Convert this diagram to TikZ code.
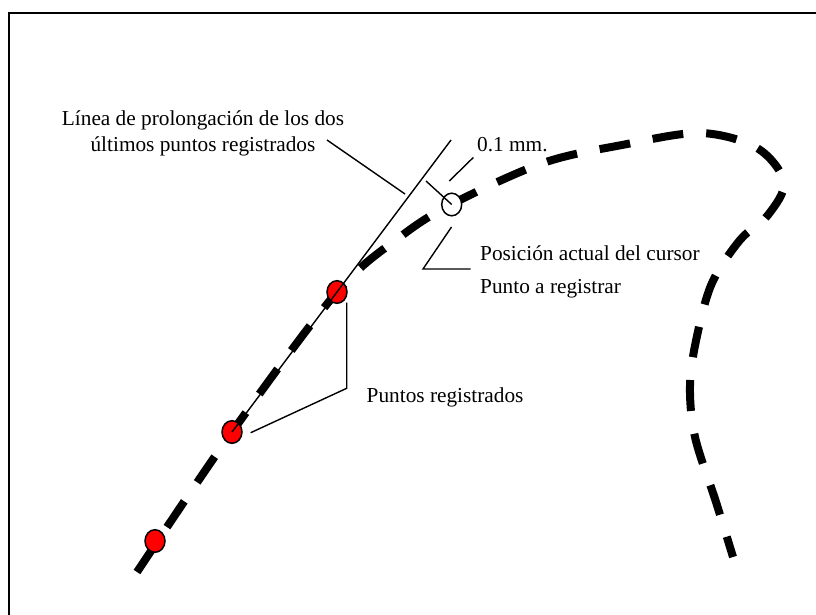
\documentclass[tikz,border=0pt]{standalone}
\usepackage{fontspec}
\setmainfont{Liberation Serif}
\usetikzlibrary{shapes.geometric}
\begin{document}
\begin{tikzpicture}[x=1pt,y=-1pt,
  thinline/.style={line width=1.4pt},
  lbl/.style={font=\fontsize{21.3}{25}\selectfont, inner sep=0pt},
  reddot/.style={ellipse, draw=black, line width=1.5pt, fill=red, minimum width=20pt, minimum height=22.6pt, inner sep=0pt},
  cursordot/.style={ellipse, draw=black, line width=1.5pt, fill=white, minimum width=20pt, minimum height=22.6pt, inner sep=0pt},
  curve/.style={line width=8pt, dash pattern=on 31pt off 23pt}]
\useasboundingbox (0,0) rectangle (816,615);
% frame (only top and left edges visible)
\draw[line width=2pt] (9,615) -- (9,13) -- (816,13);
% dashed trajectory
\draw[curve] plot[smooth, tension=0.55] coordinates {(137,572) (232,432) (337,292) (400,237) (452,204) (543,163) (622,145) (700,133) (757,148) (784,182) (768,215) (740,240) (712,283) (697,336) (690,385) (695,437) (716,502) (733,557)};
% points
\node[reddot] (p1) at (155,541) {};
\node[reddot] (p2) at (232,432) {};
\node[reddot] (p3) at (337,292) {};
\node[cursordot] (cur) at (451.7,204.5) {};
% prolongation line
\coordinate (ptop) at (451,140);
\draw[thinline] (p2.center) -- (ptop);
% perpendicular 0.1 mm segment
\coordinate (perpS) at (426,181);
\draw[thinline] (perpS) -- (cur.center);
% labels
\node[lbl, anchor=base] (t1) at (203,126) {Línea de prolongación de los dos};
\node[lbl, anchor=base] (t2) at (203,151) {últimos puntos registrados};
\node[lbl, anchor=base west] (t3) at (477,151.5) {0.1 mm.};
\node[lbl, anchor=base west] (t4) at (480,260) {Posición actual del cursor};
\node[lbl, anchor=base west] (t5) at (480,293) {Punto a registrar};
\node[lbl, anchor=base west] (t6) at (366.5,402.5) {Puntos registrados};
% leaders
\coordinate (l1a) at (327,140); \coordinate (l1b) at (405,194);
\draw[thinline] (l1a) -- (l1b);
\coordinate (l2a) at (473.3,157.5); \coordinate (l2b) at (449.3,181);
\draw[thinline] (l2a) -- (l2b);
\coordinate (l3a) at (451.5,227); \coordinate (l3b) at (423,269); \coordinate (l3c) at (470.5,269);
\draw[thinline] (l3a) -- (l3b) -- (l3c);
\coordinate (l4a) at (346.7,302.7); \coordinate (l4b) at (346.7,388.3); \coordinate (l4c) at (250.7,432.7);
\draw[thinline] (l4a) -- (l4b) -- (l4c);
\end{tikzpicture}
\end{document}
